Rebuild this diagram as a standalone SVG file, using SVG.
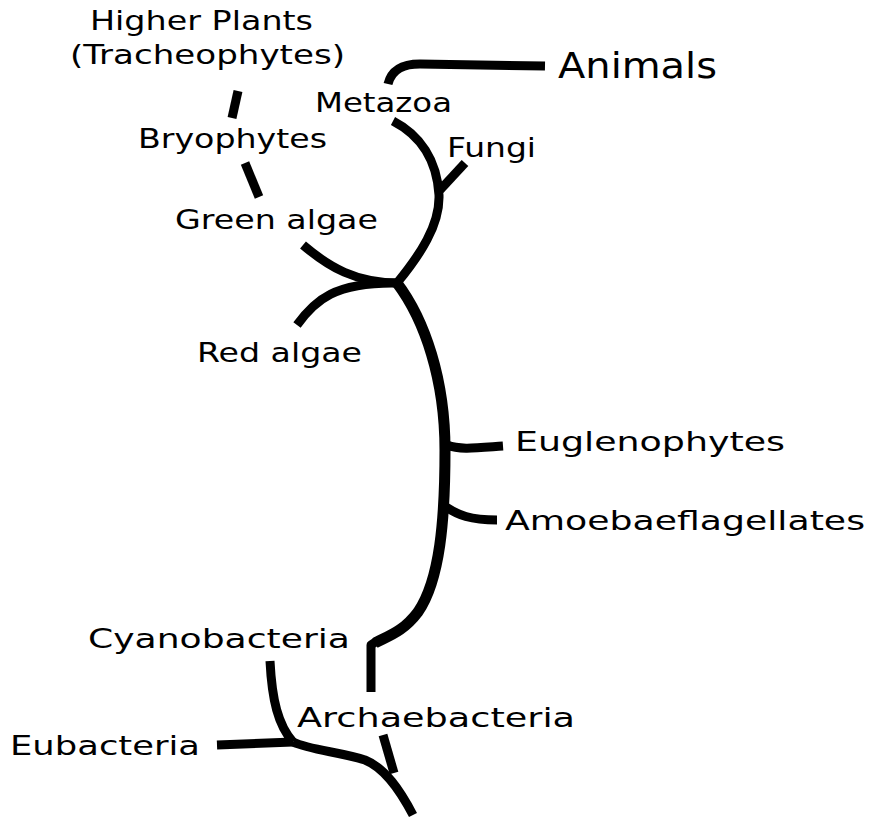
<svg xmlns="http://www.w3.org/2000/svg" width="870" height="821" viewBox="0 0 870 821">
<style>
.t{font-family:"DejaVu Sans","Verdana",sans-serif;font-size:27px;fill:#000}
.big{font-size:36px}
.l{fill:none;stroke:#000;stroke-width:9;stroke-linecap:butt;stroke-linejoin:round}
.tr{stroke-width:11}
</style>
<rect width="870" height="821" fill="#fff"/>
<g id="connectors">
<path class="l" d="M238,91 L232,118"/>
<path class="l" d="M245,163 L259,197"/>
<path class="l" d="M303,245 C330,268 355,282 397,283"/>
<path class="l" d="M297,325 C315,300 335,282 397,283"/>
<path class="l tr" d="M397,283 C425,320 445,380 445,450 C445,520 440,580 418,612 C403,632 388,636 375,643"/>
<path class="l" d="M377,641 L371,645 L371,692"/>
<path class="l" d="M397,283 C420,255 440,225 439,195 C437,160 420,135 393,121"/>
<path class="l" d="M440,190 L465,163"/>
<path class="l" d="M388,84 C392,68 405,64 420,64 L545,66"/>
<path class="l" d="M447,445 C460,450 475,448 503,446"/>
<path class="l" d="M446,507 C458,515 470,520 497,520"/>
<path class="l" d="M270,661 C272,700 278,725 293,742"/>
<path class="l" d="M217,745 L293,742"/>
<path class="l" d="M293,742 C310,750 340,752 365,760 C385,768 400,790 413,815"/>
<path class="l" d="M383,735 L394,773"/>
</g>
<g id="higher-plants"><text class="t" x="90" y="30" textLength="223" lengthAdjust="spacingAndGlyphs">Higher Plants</text><text class="t" x="70" y="64" textLength="275" lengthAdjust="spacingAndGlyphs">(Tracheophytes)</text></g>
<g id="metazoa"><text class="t" x="315" y="112" textLength="137" lengthAdjust="spacingAndGlyphs">Metazoa</text></g>
<g id="animals"><text class="t big" x="558" y="78" textLength="159" lengthAdjust="spacingAndGlyphs">Animals</text></g>
<g id="fungi"><text class="t" x="447" y="157" textLength="89" lengthAdjust="spacingAndGlyphs">Fungi</text></g>
<g id="bryophytes"><text class="t" x="138" y="148" textLength="189" lengthAdjust="spacingAndGlyphs">Bryophytes</text></g>
<g id="green-algae"><text class="t" x="175" y="229" textLength="203" lengthAdjust="spacingAndGlyphs">Green algae</text></g>
<g id="red-algae"><text class="t" x="197" y="362" textLength="165" lengthAdjust="spacingAndGlyphs">Red algae</text></g>
<g id="euglenophytes"><text class="t" x="515" y="451" textLength="270" lengthAdjust="spacingAndGlyphs">Euglenophytes</text></g>
<g id="amoebaeflagellates"><text class="t" x="505" y="530" textLength="360" lengthAdjust="spacingAndGlyphs">Amoebaeflagellates</text></g>
<g id="cyanobacteria"><text class="t" x="88" y="648" textLength="262" lengthAdjust="spacingAndGlyphs">Cyanobacteria</text></g>
<g id="archaebacteria"><text class="t" x="297" y="727" textLength="278" lengthAdjust="spacingAndGlyphs">Archaebacteria</text></g>
<g id="eubacteria"><text class="t" x="10" y="755" textLength="190" lengthAdjust="spacingAndGlyphs">Eubacteria</text></g>
</svg>
